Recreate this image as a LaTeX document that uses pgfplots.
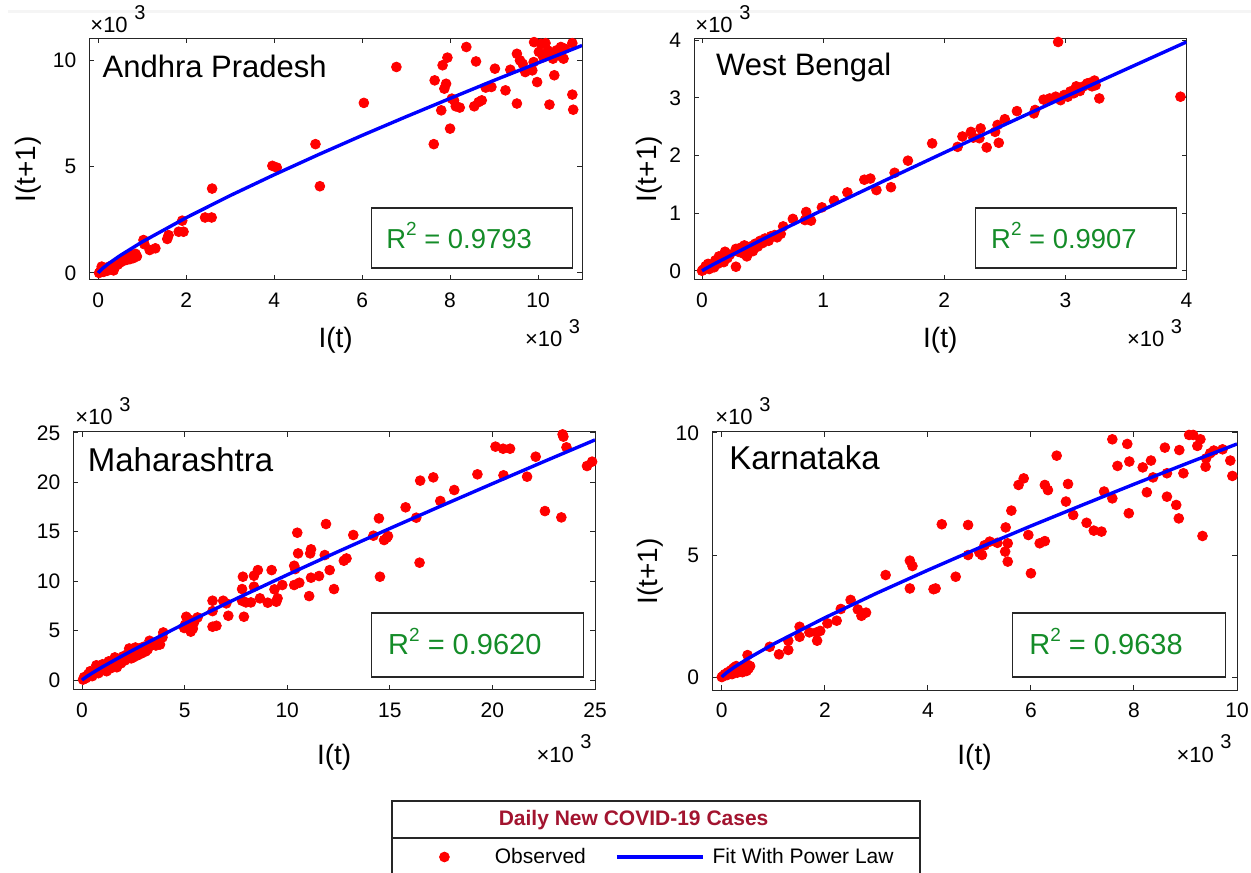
\documentclass[border=0pt]{standalone}
\usepackage{pgfplots}
\pgfplotsset{compat=1.18}
\usepackage{fontspec}
\setmainfont{Liberation Sans}
\definecolor{rsq}{RGB}{20,140,40}
\definecolor{ltitle}{RGB}{162,20,47}
\definecolor{axc}{RGB}{38,38,38}
\newcommand{\tenthree}{×10\hspace{0.3em}\raisebox{0.6em}{\fontsize{10}{11}\selectfont 3}}
\newcommand{\rsqtext}[1]{R\raisebox{0.45em}{\fontsize{9.5}{10}\selectfont 2} = #1}
\pgfplotsset{
  panel/.style={
    scale only axis,
    anchor=south west,
    clip mode=individual,
    axis line style={axc, line width=0.5pt},
    tick style={axc, line width=0.5pt},
    major tick length=2.5pt,
    tick align=inside,
    scaled ticks=false,
    /pgf/number format/assume math mode=true,
    tick label style={font=\fontsize{10.5}{12}\selectfont, black},
    xticklabel style={yshift=-3pt},
    yticklabel style={xshift=-3pt},
    label style={font=\fontsize{14}{16}\selectfont},
  },
  obs/.style={only marks, mark=*, mark size=2.45pt, color=red, mark options={draw=red, fill=red}},
  fit/.style={blue, line width=1.7pt, no marks},
  obsleg/.style={legend image code/.code={\path (-10pt,0pt) (23pt,0pt); \draw[##1] plot coordinates {(0pt,0pt)};}},
  fitleg/.style={legend image code/.code={\path (0pt,0pt) (45pt,0pt); \draw[##1] (0pt,0pt) -- (43pt,0pt);}},
}
\begin{document}
\begin{tikzpicture}
\useasboundingbox (0,0) rectangle (625.5pt,436pt);

% ---------------- Andhra Pradesh ----------------
\begin{axis}[panel, at={(44.7pt,296pt)}, width=246.3pt, height=120.75pt,
  xmin=-0.2, xmax=11, ymin=-0.33, ymax=11.03,
  xtick={0,2,4,6,8,10}, ytick={0,5,10},
  xlabel={I(t)}, ylabel={I(t+1)},
  xlabel style={at={(axis description cs:0.5,0)}, anchor=base, yshift=-34pt},
  ylabel style={at={(axis description cs:-0.1246,0.4576)}, anchor=center}]
\addplot[obs] table {
x y
0.02 0.00
0.05 0.08
0.08 0.30
0.10 0.15
0.12 0.05
0.15 0.22
0.20 0.10
0.25 0.30
0.30 0.20
0.35 0.12
0.40 0.35
0.45 0.40
0.50 0.50
0.55 0.55
0.60 0.70
0.65 0.62
0.70 0.80
0.72 0.65
0.78 0.85
0.80 0.70
0.85 0.90
0.88 0.78
1.03 1.55
1.05 1.35
1.17 1.08
1.30 1.16
1.57 1.60
1.60 1.78
1.83 1.94
1.94 1.94
1.91 2.46
2.43 2.61
2.58 2.61
2.59 3.97
3.96 5.04
4.06 4.96
4.94 6.06
5.04 4.08
6.04 8.00
6.78 9.69
7.63 6.06
7.65 9.06
7.80 7.65
7.83 9.77
7.87 8.67
7.91 8.90
7.94 10.13
8.00 6.79
8.04 8.20
8.09 8.12
8.13 7.84
8.22 7.78
8.37 10.63
8.55 7.84
8.59 9.95
8.65 8.04
8.72 8.12
8.81 8.72
8.94 8.75
9.02 9.61
9.26 8.59
9.37 9.56
9.52 10.31
9.52 7.97
9.59 10.00
9.65 9.84
9.71 9.45
9.87 9.53
9.90 9.92
9.91 10.86
9.98 8.98
10.02 10.40
10.07 10.78
10.12 10.15
10.17 10.81
10.22 10.47
10.26 7.92
10.30 10.31
10.34 10.08
10.37 9.30
10.42 10.47
10.48 10.23
10.52 10.63
10.58 10.08
10.61 10.55
10.78 10.81
10.78 8.39
10.80 7.68
};
\addplot[fit] table {
x y
0 0
0.02 0.057
0.1 0.216
0.25 0.462
0.5 0.822
1 1.462
2 2.60
3 3.64
4 4.62
5 5.56
6 6.47
7 7.35
8 8.21
9 9.06
10 9.88
11 10.70
};
\end{axis}

% ---------------- West Bengal ----------------
\begin{axis}[panel, at={(347pt,296pt)}, width=246.25pt, height=120.75pt,
  xmin=-0.066, xmax=4, ymin=-0.16, ymax=4.03,
  xtick={0,1,2,3,4}, ytick={0,1,2,3,4},
  xlabel={I(t)}, ylabel={I(t+1)},
  xlabel style={at={(axis description cs:0.5,0)}, anchor=base, yshift=-34pt},
  ylabel style={at={(axis description cs:-0.0914,0.459)}, anchor=center}]
\addplot[obs] table {
x y
0.00 0.00
0.01 0.02
0.03 0.08
0.05 0.12
0.06 0.03
0.08 0.10
0.10 0.06
0.11 0.18
0.13 0.12
0.14 0.25
0.16 0.20
0.18 0.15
0.19 0.33
0.21 0.22
0.23 0.28
0.28 0.07
0.28 0.38
0.30 0.33
0.32 0.40
0.34 0.30
0.35 0.44
0.37 0.25
0.38 0.38
0.40 0.42
0.42 0.34
0.44 0.47
0.46 0.42
0.48 0.52
0.50 0.48
0.52 0.56
0.55 0.52
0.57 0.60
0.60 0.62
0.62 0.58
0.65 0.64
0.67 0.77
0.75 0.90
0.85 0.88
0.86 1.02
0.90 0.87
0.99 1.10
1.09 1.22
1.20 1.36
1.34 1.58
1.39 1.60
1.44 1.40
1.56 1.45
1.59 1.70
1.70 1.91
1.90 2.21
2.11 2.15
2.15 2.33
2.22 2.41
2.24 2.31
2.29 2.30
2.30 2.47
2.35 2.14
2.42 2.41
2.44 2.53
2.45 2.22
2.50 2.63
2.60 2.77
2.74 2.73
2.75 2.79
2.82 2.97
2.87 2.99
2.92 3.02
2.94 3.97
2.96 2.96
2.99 3.05
3.02 3.02
3.04 3.11
3.07 3.08
3.09 3.20
3.10 3.15
3.12 3.12
3.15 3.20
3.18 3.25
3.20 3.26
3.22 3.20
3.24 3.30
3.25 3.22
3.28 2.99
3.95 3.02
};
\addplot[fit] table {
x y
0 0
0.02 0.025
0.1 0.118
0.5 0.546
1 1.058
1.5 1.557
2 2.05
2.5 2.536
3 3.02
3.5 3.496
4 3.97
};
\end{axis}

% ---------------- Maharashtra ----------------
\begin{axis}[panel, at={(36.7pt,91pt)}, width=260.8pt, height=129pt,
  xmin=-0.42, xmax=25, ymin=-1, ymax=25.1,
  xtick={0,5,10,15,20,25}, ytick={0,5,10,15,20,25},
  xlabel={I(t)},
  xlabel style={at={(axis description cs:0.5,0)}, anchor=base, yshift=-37pt}]
\addplot[obs] table {
x y
23.42 24.86
23.46 24.63
23.61 23.55
23.36 16.46
22.56 17.10
22.11 22.60
21.69 20.58
24.61 21.66
24.86 22.10
20.15 23.62
20.52 23.41
20.86 23.41
20.54 20.72
19.27 20.82
18.14 19.23
17.46 18.12
17.12 20.51
16.48 20.18
16.29 16.43
16.45 11.88
15.77 17.48
14.47 16.36
14.52 10.46
14.20 14.61
14.72 14.17
14.91 14.57
14.85 14.40
13.22 14.68
12.76 12.08
12.89 12.31
12.28 9.21
12.07 11.13
11.89 15.79
11.83 12.65
11.16 13.23
11.12 12.82
11.16 10.36
11.07 8.50
11.55 10.53
10.49 14.91
10.53 12.82
10.34 11.57
10.39 11.23
10.34 9.62
10.59 9.85
9.24 11.13
9.38 9.18
9.53 8.27
9.47 7.93
9.76 9.62
9.05 7.83
8.57 11.13
8.38 10.56
8.38 9.45
8.67 8.27
8.23 7.86
7.84 10.46
7.80 9.21
7.80 8.03
7.99 7.86
7.89 6.41
6.88 8.03
7.03 7.76
6.36 8.03
7.13 6.51
6.36 6.98
6.55 5.50
6.36 5.40
5.63 6.34
5.50 6.07
5.21 6.14
5.08 6.41
5.02 5.60
4.98 5.27
5.17 5.40
5.40 5.20
5.30 4.90
5.45 5.80
3.96 4.82
3.92 4.32
3.70 3.80
3.60 3.50
3.48 3.64
3.29 3.98
3.20 3.10
3.00 3.37
2.90 2.70
2.81 3.20
2.70 2.50
2.60 3.30
2.50 2.80
2.40 2.20
2.30 3.20
2.20 2.60
2.10 2.00
2.00 2.40
1.90 1.70
1.80 2.10
1.70 1.30
1.60 2.30
1.50 1.60
1.40 1.20
1.30 1.90
1.20 1.40
1.10 1.00
1.00 1.60
0.90 1.10
0.80 0.70
0.70 1.50
0.60 0.80
0.50 0.40
0.40 0.90
0.30 0.60
0.20 0.20
0.10 0.30
0.05 0.05
3.80 3.60
3.10 2.90
2.50 2.30
1.20 0.90
0.80 1.20
};
\addplot[fit] table {
x y
0 0
0.05 0.091
0.2 0.315
0.5 0.719
1 1.341
2 2.50
3 3.60
5 5.71
7.5 8.22
10 10.65
12.5 13.02
15 15.34
17.5 17.62
20 19.87
22.5 22.10
25 24.30
};
\end{axis}

% ---------------- Karnataka ----------------
\begin{axis}[panel, at={(356pt,91pt)}, width=262.5pt, height=129pt,
  xmin=-0.19, xmax=10, ymin=-0.53, ymax=10.04,
  xtick={0,2,4,6,8,10}, ytick={0,5,10},
  xlabel={I(t)}, ylabel={I(t+1)},
  xlabel style={at={(axis description cs:0.5,0)}, anchor=base, yshift=-37pt},
  ylabel style={at={(axis description cs:-0.118,0.459)}, anchor=center},
  legend columns=2,
  legend style={draw=none, fill=none, inner sep=0pt, anchor=west,
    at={(axis description cs:-0.5493,-0.6473)},
    font=\fontsize{10.5}{12}\selectfont, cells={anchor=west},
    /tikz/every even column/.append style={column sep=12.7pt}}]
\addplot[obs, obsleg] table {
x y
7.58 9.74
7.87 9.55
7.91 8.83
7.68 8.65
7.58 7.32
7.90 6.71
8.17 8.59
8.25 7.57
8.33 8.87
8.37 8.18
8.60 9.40
8.64 8.35
8.64 7.39
8.88 9.30
8.82 7.05
8.87 6.50
8.96 8.35
9.07 9.92
9.15 9.92
9.29 9.74
9.23 9.47
9.33 5.78
9.39 8.62
9.40 8.96
9.48 9.17
9.55 9.28
9.72 9.33
9.87 8.87
9.91 8.24
7.08 6.32
7.22 6.00
7.37 5.96
7.42 7.60
6.50 9.07
6.72 7.91
6.68 7.19
6.82 6.64
6.27 7.87
6.33 7.66
6.27 5.57
6.17 5.48
6.00 4.25
5.95 5.82
5.76 7.87
5.86 8.14
5.62 6.82
5.51 6.13
5.55 5.48
5.50 5.14
5.55 4.73
5.35 5.50
5.20 5.55
5.10 5.40
5.05 5.00
5.00 5.10
4.78 6.23
4.78 5.00
4.27 6.26
4.54 4.11
4.15 3.63
4.11 3.60
3.65 4.77
3.70 4.55
3.65 3.63
3.18 4.18
2.71 2.51
2.80 2.64
2.64 2.77
2.50 3.16
2.31 2.79
2.23 2.31
2.05 2.20
1.84 1.83
1.91 1.89
1.85 1.49
1.70 1.83
1.51 2.06
1.51 1.65
1.29 1.49
1.29 1.11
1.11 0.93
0.93 1.24
0.00 0.00
0.03 0.05
0.06 0.12
0.10 0.08
0.12 0.20
0.15 0.15
0.18 0.28
0.20 0.12
0.22 0.35
0.25 0.22
0.28 0.45
0.30 0.18
0.32 0.30
0.35 0.25
0.38 0.35
0.40 0.20
0.42 0.40
0.45 0.30
0.48 0.25
0.50 0.90
0.52 0.35
0.55 0.45
0.50 0.50
0.25 0.40
};
\addlegendentry{Observed}
\addplot[fit, fitleg] table {
x y
0 0
0.02 0.049
0.1 0.19
0.25 0.416
0.5 0.749
1 1.349
2 2.43
3 3.43
4 4.38
5 5.30
6 6.19
7 7.05
8 7.90
9 8.73
10 9.55
};
\addlegendentry{Fit With Power Law}
\end{axis}

% ---------------- annotations in pixel coordinates ----------------
\begin{scope}[x=0.5pt, y=-0.5pt, yshift=436pt]
  \fill[white] (0,0) rectangle (1251,10);
  \fill[gray!8] (8,10) rectangle (1251,13);
  % scale factors
  \begin{scope}[every node/.style={inner sep=0pt, font=\fontsize{11}{13}\selectfont}]
    \node[anchor=base west] at (90,33) {\tenthree};
    \node[anchor=base west] at (695,33) {\tenthree};
    \node[anchor=base west] at (75,425) {\tenthree};
    \node[anchor=base west] at (715,425) {\tenthree};
    \node[anchor=base east] at (580.5,346.7) {\tenthree};
    \node[anchor=base east] at (1182.5,346.7) {\tenthree};
    \node[anchor=base east] at (592,762) {\tenthree};
    \node[anchor=base east] at (1232,762) {\tenthree};
  \end{scope}
  % titles
  \node[anchor=base west, inner sep=0pt, font=\fontsize{15.5}{18}\selectfont] at (102.3,78) {Andhra Pradesh};
  \node[anchor=base west, inner sep=0pt, font=\fontsize{15.5}{18}\selectfont] at (715.7,76) {West Bengal};
  \node[anchor=base west, inner sep=0pt, font=\fontsize{16.5}{19}\selectfont] at (87.5,471.7) {Maharashtra};
  \node[anchor=base west, inner sep=0pt, font=\fontsize{16.5}{19}\selectfont] at (728.9,470) {Karnataka};
  % R^2 boxes
  \draw[axc, line width=0.6pt] (371.4,208) rectangle (572.8,268);
  \node[anchor=base west, inner sep=0pt, text=rsq, font=\fontsize{13.7}{16}\selectfont] at (386,248.3) {\rsqtext{0.9793}};
  \draw[axc, line width=0.6pt] (975.5,208) rectangle (1176.4,268);
  \node[anchor=base west, inner sep=0pt, text=rsq, font=\fontsize{13.7}{16}\selectfont] at (990.8,248.3) {\rsqtext{0.9907}};
  \draw[axc, line width=0.6pt] (371.2,613) rectangle (583.1,677);
  \node[anchor=base west, inner sep=0pt, text=rsq, font=\fontsize{14.5}{17}\selectfont] at (387.8,655) {\rsqtext{0.9620}};
  \draw[axc, line width=0.6pt] (1012.8,613) rectangle (1225.7,677);
  \node[anchor=base west, inner sep=0pt, text=rsq, font=\fontsize{14.5}{17}\selectfont] at (1029,655) {\rsqtext{0.9638}};
  % legend frame and title
  \draw[axc, line width=0.6pt] (392,890) -- (392,801) -- (920,801) -- (920,890);
  \draw[axc, line width=0.6pt] (392,838) -- (920,838);
  \node[inner sep=0pt, text=ltitle, font=\bfseries\fontsize{10.5}{12}\selectfont] at (633.6,820) {Daily New COVID-19 Cases};
\end{scope}
\end{tikzpicture}
\end{document}
